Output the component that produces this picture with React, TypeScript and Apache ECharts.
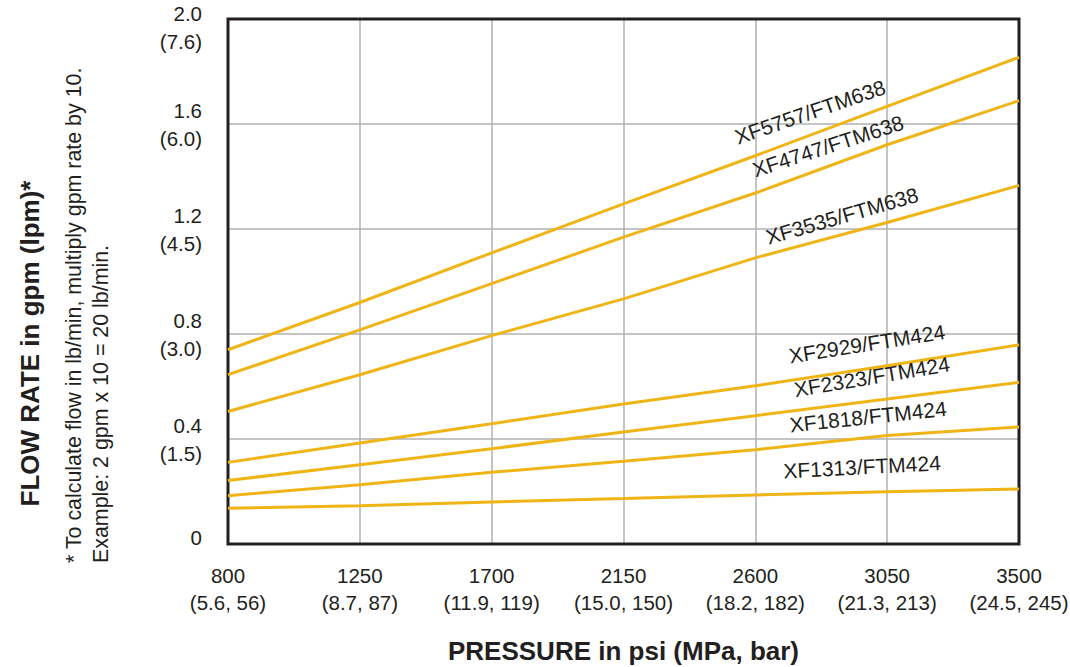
import React, { useEffect, useRef } from "react";
import * as echarts from "echarts";

// ---- Data ----
const pressurePsi = [800, 1250, 1700, 2150, 2600, 3050, 3500];
const pressureMpaBar = ["(5.6, 56)", "(8.7, 87)", "(11.9, 119)", "(15.0, 150)", "(18.2, 182)", "(21.3, 213)", "(24.5, 245)"];
const flowGpmTicks = [0, 0.4, 0.8, 1.2, 1.6, 2.0];
const flowGpmTickLabels = ["0", "0.4", "0.8", "1.2", "1.6", "2.0"];
const flowLpmTickLabels = ["", "(1.5)", "(3.0)", "(4.5)", "(6.0)", "(7.6)"];

const nozzleNames = [
  "XF5757/FTM638",
  "XF4747/FTM638",
  "XF3535/FTM638",
  "XF2929/FTM424",
  "XF2323/FTM424",
  "XF1818/FTM424",
  "XF1313/FTM424",
];
const xf5757 = [0.740, 0.920, 1.109, 1.296, 1.479, 1.667, 1.854];
const xf4747 = [0.645, 0.816, 0.992, 1.169, 1.337, 1.521, 1.689];
const xf3535 = [0.505, 0.645, 0.794, 0.934, 1.090, 1.225, 1.366];
const xf2929 = [0.311, 0.385, 0.458, 0.533, 0.603, 0.679, 0.759];
const xf2323 = [0.242, 0.302, 0.363, 0.427, 0.489, 0.552, 0.616];
const xf1818 = [0.184, 0.226, 0.273, 0.315, 0.359, 0.413, 0.446];
const xf1313 = [0.136, 0.146, 0.160, 0.173, 0.187, 0.199, 0.210];
const flowSeries = [xf5757, xf4747, xf3535, xf2929, xf2323, xf1818, xf1313];

// label anchors in data coordinates (psi, gpm) and their angles
const labelAtPsi = [2787, 2848, 2896, 2981, 2998, 2985, 2964];
const labelAtGpm = [1.646, 1.516, 1.25, 0.763, 0.637, 0.485, 0.294];
const labelAngle = [19, 18, 16, 9, 9.5, 6, 3];

const xTitle = "PRESSURE in psi (MPa, bar)";
const yTitle = "FLOW RATE in gpm (lpm)*";
const noteLines = [
  "* To calculate flow in lb/min, multiply gpm rate by 10.",
  "Example: 2 gpm x 10 = 20 lb/min.",
];

// ---- Style ----
const FONT = "'Liberation Sans', Arial, Helvetica, sans-serif";
const INK = "#231f20";
const GRID = "#b1b1b1";
const LINE = "#efb416";

function yLabel(v: number): string {
  const i = flowGpmTicks.findIndex((t) => Math.abs(t - v) < 1e-9);
  if (i < 0) return "";
  if (i === 0) return `${flowGpmTickLabels[i]}\n{e| }`;
  if (i === flowGpmTicks.length - 1) return `{f| }\n${flowGpmTickLabels[i]}\n${flowLpmTickLabels[i]}`;
  return `${flowGpmTickLabels[i]}\n${flowLpmTickLabels[i]}`;
}

export default function App() {
  const ref = useRef<HTMLDivElement>(null);
  useEffect(() => {
    const chart = echarts.init(ref.current as HTMLDivElement, null, { renderer: "svg" });
    const option: any = {
      animation: false,
      backgroundColor: "#ffffff",
      grid: {
        left: 228,
        right: 51,
        top: 19,
        bottom: 123,
        show: true,
        borderColor: INK,
        borderWidth: 3,
        backgroundColor: "transparent",
        z: 3,
        containLabel: false,
        outerBoundsMode: "none",
      },
      xAxis: [
        {
          type: "category",
          data: pressurePsi.map(String),
          boundaryGap: false,
          axisLine: { show: false },
          axisTick: { show: false },
          splitLine: { show: true, interval: 0, lineStyle: { color: GRID, width: 1.5 } },
          axisLabel: {
            interval: 0,
            margin: 18,
            fontSize: 20.5,
            lineHeight: 27,
            color: INK,
            fontFamily: FONT,
            formatter: (v: string, i: number) => `${v}\n${pressureMpaBar[i]}`,
          },
          name: xTitle,
          nameLocation: "middle",
          nameGap: 94,
          nameTextStyle: { fontSize: 26, fontWeight: "bold", color: INK, fontFamily: FONT },
        },
        { type: "value", min: 800, max: 3500, show: false },
      ],
      yAxis: {
        type: "value",
        min: 0,
        max: 2,
        interval: 0.4,
        axisLine: { show: false },
        axisTick: { show: false },
        splitLine: { show: true, lineStyle: { color: GRID, width: 1.5 } },
        axisLabel: {
          margin: 26,
          fontSize: 20.5,
          lineHeight: 28,
          color: INK,
          fontFamily: FONT,
          formatter: yLabel,
          rich: { e: { lineHeight: 14 }, f: { lineHeight: 16 } },
        },
        name: yTitle,
        nameLocation: "middle",
        nameRotate: 90,
        nameGap: 185,
        nameTextStyle: {
          fontSize: 26,
          fontWeight: "bold",
          color: INK,
          fontFamily: FONT,
          padding: [0, 124, 0, 0],
        },
      },
      graphic: noteLines.map((t, i) => ({
        type: "text",
        x: [74, 101][i],
        y: 563,
        rotation: Math.PI / 2,
        style: {
          text: t,
          fontSize: 21.4,
          fontFamily: FONT,
          fill: INK,
          align: "left",
          verticalAlign: "middle",
          textAlign: "left",
          textVerticalAlign: "middle",
        },
      })),
      series: nozzleNames.map((name, k) => ({
        name,
        type: "line",
        xAxisIndex: 1,
        yAxisIndex: 0,
        symbol: "none",
        silent: true,
        z: 4,
        lineStyle: { color: LINE, width: 3 },
        data: pressurePsi.map((p, i) => [p, flowSeries[k][i]]),
        markPoint: {
          symbol: "circle",
          symbolSize: 1,
          silent: true,
          itemStyle: { color: "transparent" },
          label: {
            show: true,
            position: "inside",
            formatter: () => name,
            rotate: labelAngle[k],
            fontSize: 21,
            color: INK,
            fontFamily: FONT,
          },
          data: [{ coord: [labelAtPsi[k], labelAtGpm[k]] }],
        },
      })),
    };
    chart.setOption(option);
    return () => chart.dispose();
  }, []);
  return (
    <div
      ref={ref}
      style={{ position: "fixed", left: 0, top: 0, width: 1070, height: 667, background: "#fff" }}
    />
  );
}
